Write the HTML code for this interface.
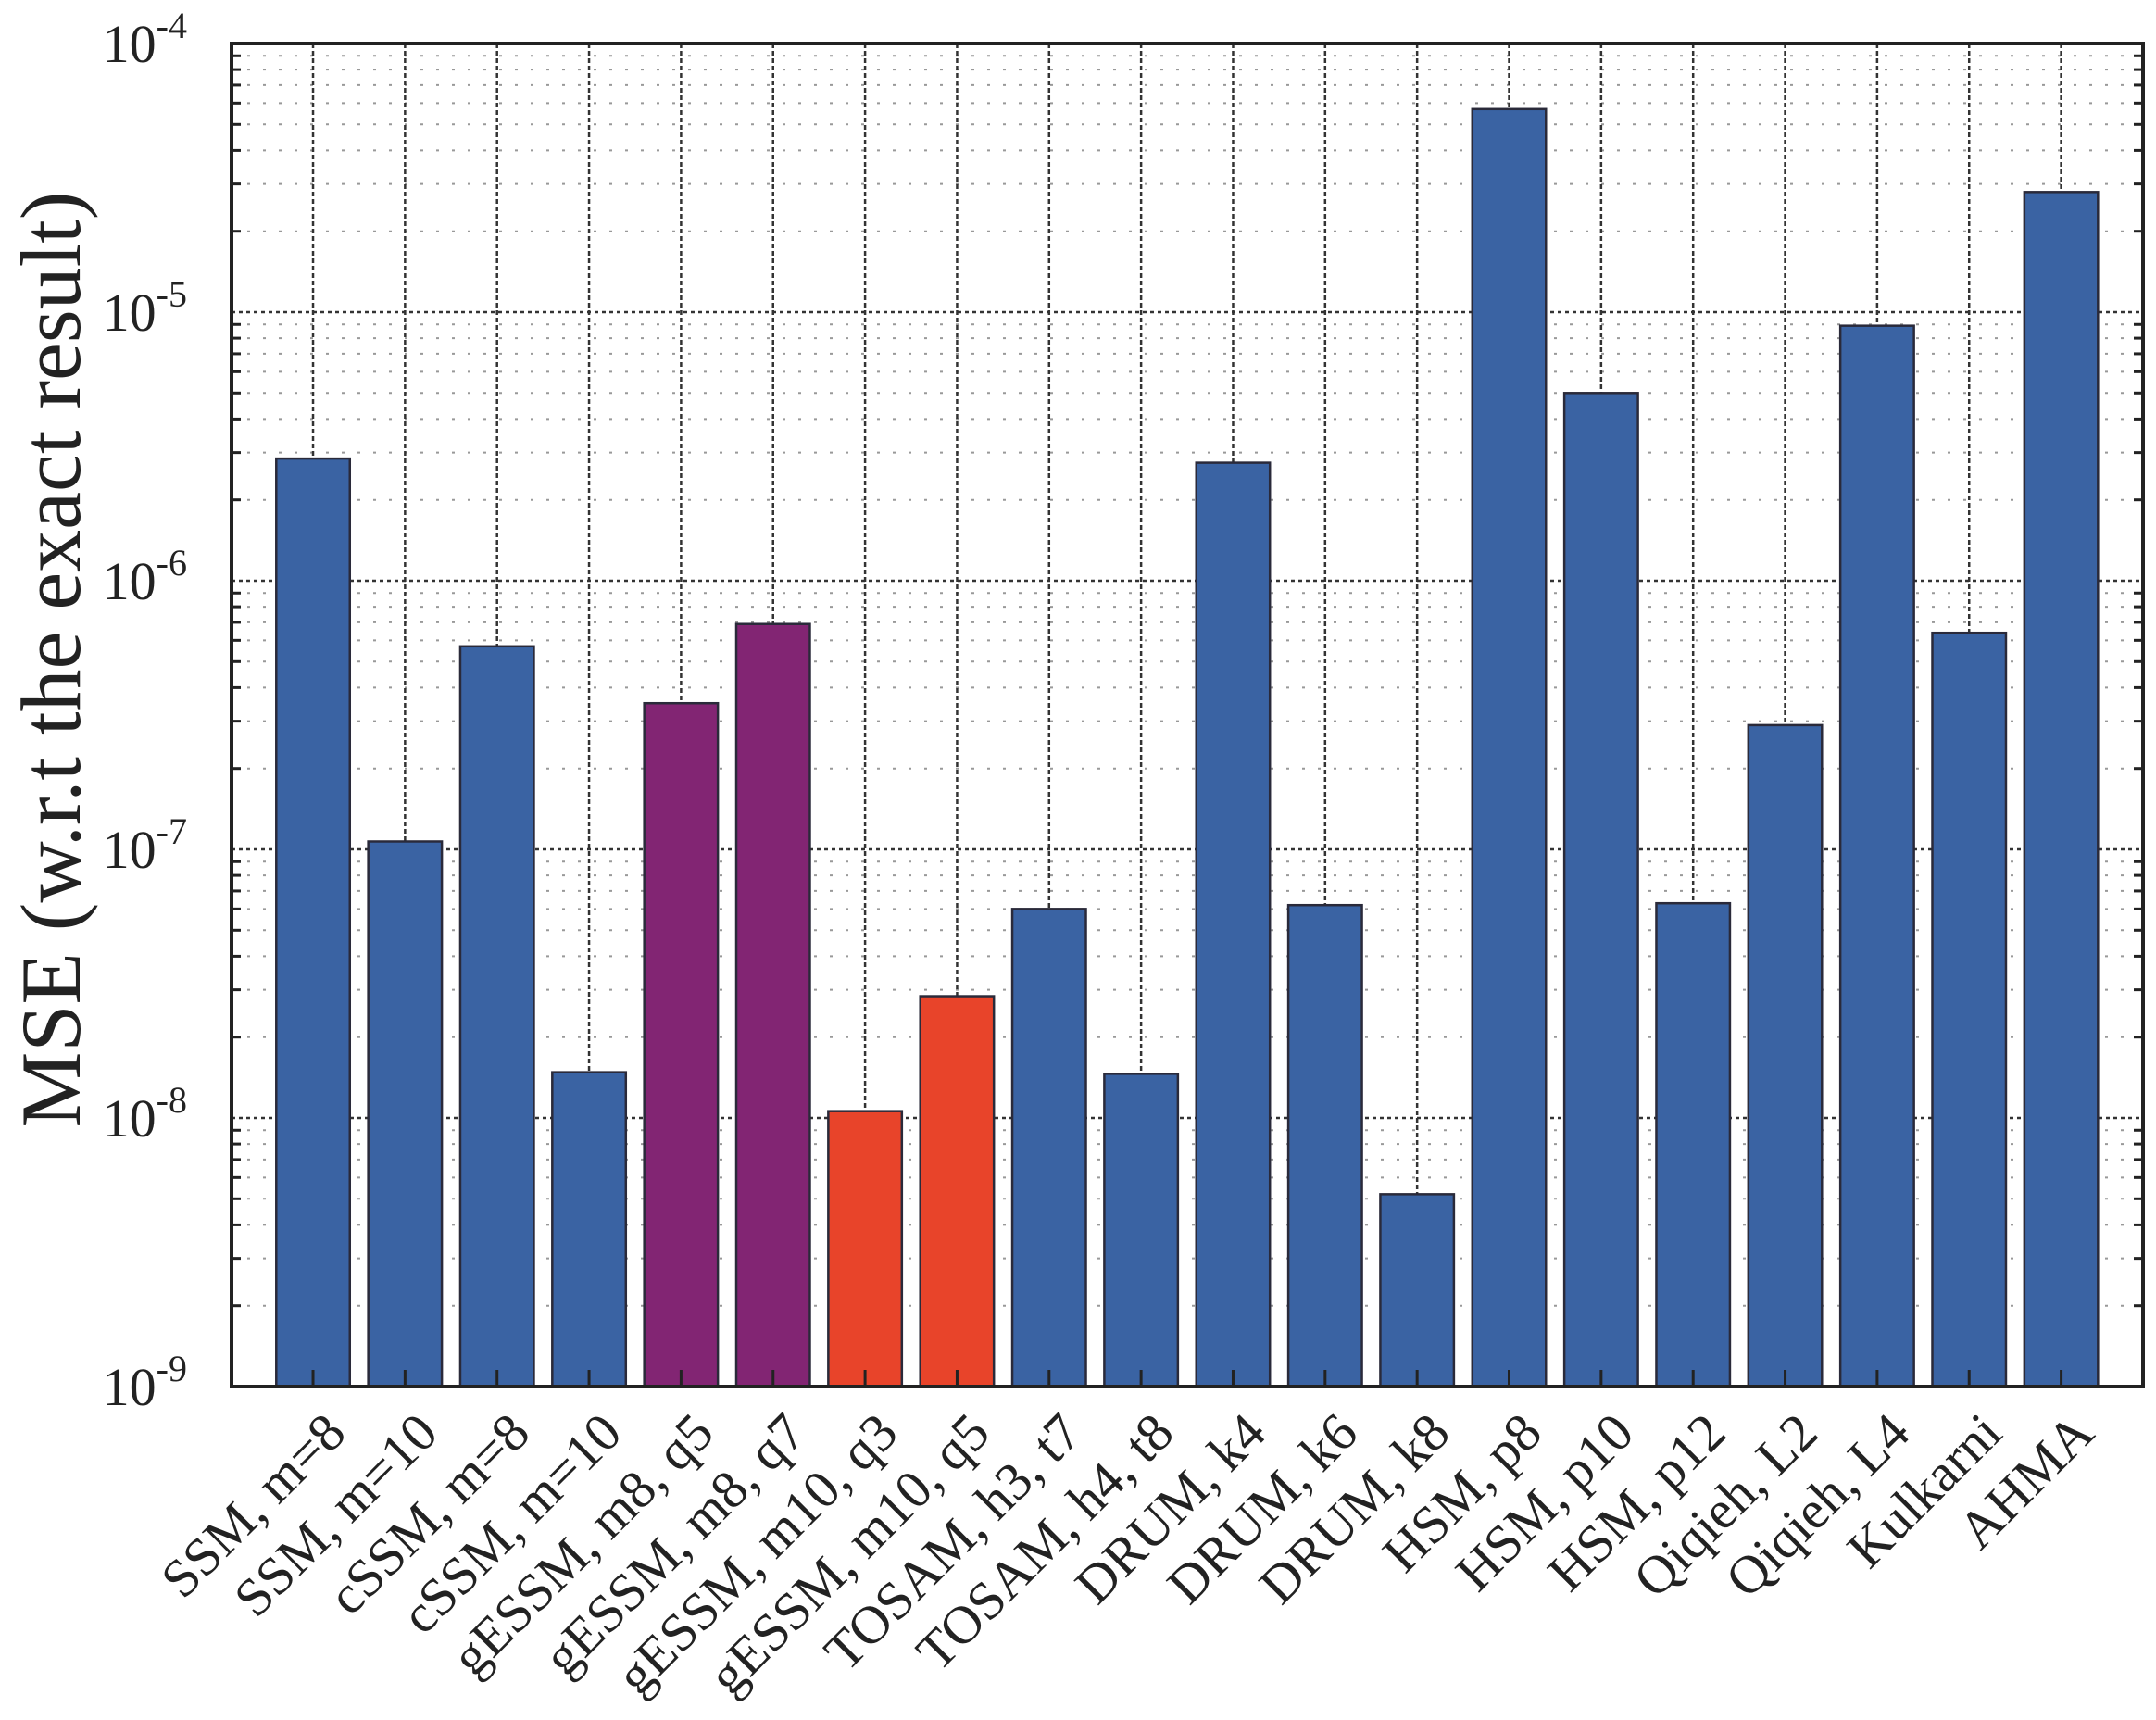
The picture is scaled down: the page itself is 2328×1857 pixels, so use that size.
<!DOCTYPE html>
<html><head><meta charset="utf-8">
<style>
html,body{margin:0;padding:0;background:#fff;}
svg{display:block;font-family:"Liberation Serif",serif;}
</style></head>
<body>
<svg id="chart" width="2328" height="1857" viewBox="0 0 2328 1857" xmlns="http://www.w3.org/2000/svg">
<text x="0" y="0" transform="translate(86,712) rotate(-90)" text-anchor="middle" font-size="92" fill="#222">MSE (w.r.t the exact result)</text>
</svg>
<script>
const categories = ["SSM, m=8","SSM, m=10","cSSM, m=8","cSSM, m=10","gESSM, m8, q5","gESSM, m8, q7","gESSM, m10, q3","gESSM, m10, q5","TOSAM, h3, t7","TOSAM, h4, t8","DRUM, k4","DRUM, k6","DRUM, k8","HSM, p8","HSM, p10","HSM, p12","Qiqieh, L2","Qiqieh, L4","Kulkarni","AHMA"];
const mseValues = [2.85e-6,1.07e-7,5.7e-7,1.48e-8,3.5e-7,6.9e-7,1.06e-8,2.84e-8,6.0e-8,1.46e-8,2.75e-6,6.2e-8,5.2e-9,5.7e-5,5.0e-6,6.3e-8,2.9e-7,8.9e-6,6.4e-7,2.8e-5];
const barGroups = ["blue","blue","blue","blue","purple","purple","red","red","blue","blue","blue","blue","blue","blue","blue","blue","blue","blue","blue","blue"];
const yTickExponents = [-4,-5,-6,-7,-8,-9];

const svg = document.getElementById('chart');
const NS = 'http://www.w3.org/2000/svg';
const L = 250, R = 2314, T = 47, B = 1497;
const yMinExp = -9, yMaxExp = -4;
const xMin = 0.114, xMax = 20.89;
function xs(i){ return L + (i + 1 - xMin) / (xMax - xMin) * (R - L); }
function ys(v){ return B - (Math.log10(v) - yMinExp) / (yMaxExp - yMinExp) * (B - T); }
const colors = {blue:"#3a63a3", purple:"#822573", red:"#e8442a"};
const barW = 0.8 * (R - L) / (xMax - xMin);

function mk(tag, attrs){ const e = document.createElementNS(NS, tag); for (const k in attrs) e.setAttribute(k, attrs[k]); svg.appendChild(e); return e; }

for (let e = yMinExp; e < yMaxExp; e++) {
  for (let m = 2; m <= 9; m++) {
    const y = ys(m * Math.pow(10, e));
    const g = mk('line', {x1:L, x2:R, y1:y, y2:y, stroke:'#999', 'stroke-width':2, 'stroke-dasharray':'3 14'});
    
    
    const t1 = mk('line', {x1:L, x2:L+10, y1:y, y2:y, stroke:'#222', 'stroke-width':3});
    
    
    const t2 = mk('line', {x1:R-10, x2:R, y1:y, y2:y, stroke:'#222', 'stroke-width':3});
    
    
  }
}
yTickExponents.forEach(function(e){
  const y = ys(Math.pow(10, e));
  const g = mk('line', {x1:L, x2:R, y1:y, y2:y, stroke:'#333', 'stroke-width':2.5, 'stroke-dasharray':'4 4'});
  
  
  const t = mk('text', {x:202, y:y+20, 'text-anchor':'end', 'font-size':58, fill:'#222'});
  
  
  t.innerHTML = '10<tspan font-size="40" dy="-26">' + e + '</tspan>';
});
categories.forEach(function(c, i){
  const x = xs(i);
  const g = mk('line', {x1:x, x2:x, y1:T, y2:B, stroke:'#333', 'stroke-width':2.5, 'stroke-dasharray':'5 3'});
  
  
});
categories.forEach(function(c, i){
  const x = xs(i), y = ys(mseValues[i]);
  const b = mk('rect', {x:x - barW/2, y:y, width:barW, height:B - y, fill:colors[barGroups[i]], stroke:'#2a2a3a', 'stroke-width':2.5});
  
  
  const tk = mk('line', {x1:x, x2:x, y1:B-18, y2:B, stroke:'#222', 'stroke-width':3});
  
  
  const lab = mk('text', {x:0, y:0, 'text-anchor':'end', 'font-size':58, fill:'#222', transform:'translate(' + (x + 38) + ',1550) rotate(-45)'});
  
  
  lab.textContent = c;
});
const box = mk('rect', {x:L, y:T, width:R-L, height:B-T, fill:'none', stroke:'#222', 'stroke-width':4});


</script>
</body></html>
